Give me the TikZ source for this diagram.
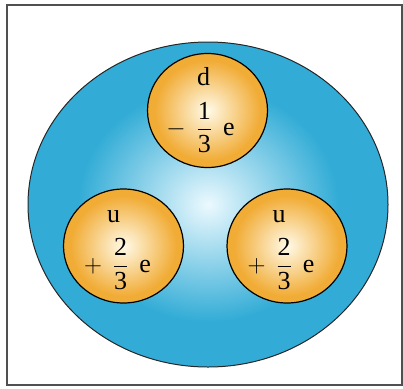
\documentclass[tikz,border=0pt]{standalone}
\usepackage{amsmath}
\usepackage{fontspec}
\setmainfont{Liberation Serif}
\usetikzlibrary{positioning,shapes.geometric}

\definecolor{protonblue}{RGB}{50,172,214}
\definecolor{protonglow}{RGB}{236,249,254}
\definecolor{quarkorange}{RGB}{241,172,54}
\definecolor{quarkglow}{RGB}{255,250,232}
\definecolor{framegray}{RGB}{80,80,80}

% soft glow in the middle, flat colour towards the rim
\pgfdeclareradialshading{protonshade}{\pgfpoint{0bp}{0bp}}{color(0bp)=(protonglow); color(18bp)=(protonblue); color(25bp)=(protonblue); color(50bp)=(protonblue)}
\pgfdeclareradialshading{quarkshade}{\pgfpoint{0bp}{0bp}}{color(0bp)=(quarkglow); color(22bp)=(quarkorange); color(25bp)=(quarkorange); color(50bp)=(quarkorange)}

\begin{document}
\begin{tikzpicture}[
    x=1pt, y=-1pt,
    frame/.style={draw=framegray, line width=2pt, minimum width=395pt, minimum height=380pt, inner sep=0pt},
    proton/.style={ellipse, draw=black!85, line width=1pt, minimum width=360pt, minimum height=325pt, inner sep=0pt, shading=protonshade},
    quark/.style={ellipse, draw=black, line width=1.2pt, minimum width=120pt, minimum height=114pt, inner sep=0pt, shading=quarkshade},
    flavour/.style={font=\fontsize{26}{28}\selectfont, inner sep=0pt},
    charge/.style={font=\fontsize{26}{28}\selectfont, inner sep=0pt}
]
\useasboundingbox (0,0) rectangle (403,388);
\node[frame] (box) at (204,195) {};
\node[proton] (proton) at (208,204.5) {};

% quarks
\node[quark] (down) at (207.5,110.5) {};
\node[quark] (upleft) at (123.5,246) {};
\node[quark] (upright) at (287,246) {};

\node[charge] (downq) at ([xshift=-7pt, yshift=-17pt]down.center) {$-\,\;\dfrac{\text{1}}{\text{3}}\,\;\text{e}$};
\node[flavour, above=16pt of downq, xshift=3pt] (downname) {d};

\node[charge] (upleftq) at ([xshift=-6pt, yshift=-18pt]upleft.center) {$+\,\;\dfrac{\text{2}}{\text{3}}\,\;\text{e}$};
\node[flavour, above=15pt of upleftq, xshift=-4pt] (upleftname) {u};

\node[charge] (uprightq) at ([xshift=-6pt, yshift=-18pt]upright.center) {$+\,\;\dfrac{\text{2}}{\text{3}}\,\;\text{e}$};
\node[flavour, above=15pt of uprightq, xshift=-2pt] (uprightname) {u};
\end{tikzpicture}
\end{document}
